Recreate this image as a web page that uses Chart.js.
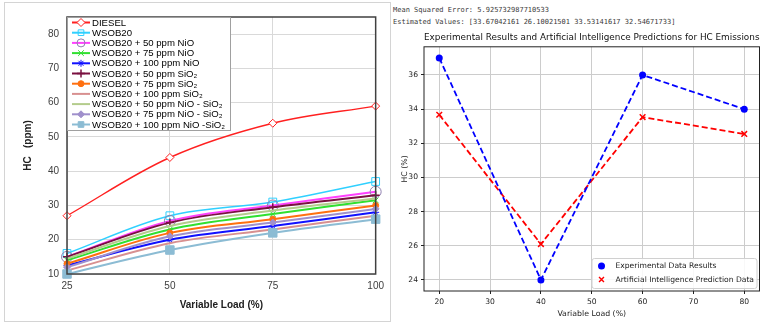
<!DOCTYPE html>
<html>
<head>
<meta charset="utf-8">
<script src="https://cdn.jsdelivr.net/npm/chart.js@4.4.0/dist/chart.umd.min.js"></script>
<style>
  html, body { margin: 0; padding: 0; background: #fff; }
  body { width: 765px; height: 327px; position: relative; overflow: hidden; }
  #leftBox { position: absolute; left: 4px; top: 2px; width: 385px; height: 318px; border: 1px solid #d4d4d4; }
  #leftChart { position: absolute; left: 0; top: 0; }
  #rightChart { position: absolute; left: 392px; top: 28px; }
  #log { position: absolute; left: 393px; top: 4px; margin: 0; font-family: "DejaVu Sans Mono", monospace;
         font-size: 7px; line-height: 12px; color: #3a3a3a; white-space: pre; }
</style>
</head>
<body>
<div id="leftBox"></div>
<canvas id="leftChart" width="390" height="327"></canvas>
<pre id="log"></pre>
<canvas id="rightChart" width="373" height="299"></canvas>
<script>
// Linker grafiek: HC emissies per brandstof
const loadLabels = ["25", "50", "75", "100"];
const hcTicks = [10, 20, 30, 40, 50, 60, 70, 80];

const seriesNames = [
  "DIESEL",
  "WSOB20",
  "WSOB20 + 50 ppm NiO",
  "WSOB20 + 75 ppm NiO",
  "WSOB20 + 100 ppm NiO",
  "WSOB20 + 50 ppm SiO₂",
  "WSOB20 + 75 ppm SiO₂",
  "WSOB20 + 100 ppm SiO₂",
  "WSOB20 + 50 ppm NiO - SiO₂",
  "WSOB20 + 75 ppm NiO - SiO₂",
  "WSOB20 + 100 ppm NiO -SiO₂"
];

const dieselHC = [27, 44, 54, 59];
const wsob20HC = [16, 27, 31, 37];
const nio50HC = [15, 25.5, 30, 34];
const nio75HC = [14, 23, 27.5, 31.5];
const nio100HC = [12.5, 20, 24, 28];
const sio50HC = [15, 25, 29.5, 33];
const sio75HC = [13, 22, 26, 30];
const sio100HC = [11, 19, 23, 27];
const mix50HC = [14.5, 24, 28.5, 32];
const mix75HC = [12, 21, 25, 29];
const mix100HC = [10, 17, 22, 26];

const seriesValues = [dieselHC, wsob20HC, nio50HC, nio75HC, nio100HC, sio50HC,
  sio75HC, sio100HC, mix50HC, mix75HC, mix100HC];

// Rechter grafiek: experiment tegen AI voorspelling
const aiLoads = [20, 40, 60, 80];
const experimentalHC = [37, 24, 36, 34];
const predictedHC = [33.67042161, 26.10021501, 33.53141617, 32.54671733];
const meanSquaredError = 5.925732987710533;
const aiTicksX = [20, 30, 40, 50, 60, 70, 80];
const aiTicksY = [24, 26, 28, 30, 32, 34, 36];

// Lijnstijlen per reeks (kleur, marker)
const seriesStyles = [
  { color: "#ff2020", point: "#ff2020", style: "rectRot", r: 4, fill: "#fff", bw: 1, lw: 1.4 },
  { color: "#30d0ff", point: "#30d0ff", style: "rect", r: 5.5, fill: "rgba(255,255,255,0)", bw: 1, lw: 1.5 },
  { color: "#ff40ff", point: "#9080b0", style: "circle", r: 5.5, fill: "rgba(255,255,255,0)", bw: 1, lw: 2 },
  { color: "#30e030", point: "#30e030", style: "crossRot", r: 4, fill: "#30e030", bw: 1, lw: 2 },
  { color: "#1010ff", point: "#1010ff", style: "star", r: 3.5, fill: "#1010ff", bw: 1, lw: 2 },
  { color: "#7a1040", point: "#7a1040", style: "cross", r: 4, fill: "#7a1040", bw: 1.5, lw: 2 },
  { color: "#ff7010", point: "#ff7010", style: "circle", r: 3, fill: "#ff7010", bw: 1, lw: 2 },
  { color: "#d89090", point: "#d89090", style: "circle", r: 0, fill: "#d89090", bw: 0, lw: 2 },
  { color: "#b4cc8c", point: "#b4cc8c", style: "circle", r: 0, fill: "#b4cc8c", bw: 0, lw: 2 },
  { color: "#a090cc", point: "#a090cc", style: "rectRot", r: 3.5, fill: "#a090cc", bw: 1, lw: 2 },
  { color: "#8cbcd4", point: "#8cbcd4", style: "rect", r: 6, fill: "#8cbcd4", bw: 1, lw: 2 }
];

// Kader rond het plotgebied
const framePlugin = {
  id: "frame",
  afterDatasetsDraw(chart, args, opts) {
    const { ctx, chartArea: a } = chart;
    ctx.save();
    ctx.strokeStyle = opts.color;
    ctx.lineWidth = opts.width;
    ctx.strokeRect(a.left, a.top, a.right - a.left, a.bottom - a.top);
    ctx.restore();
  }
};

// Legenda linksboven in het plotgebied (lijn + marker)
const leftLegend = {
  id: "leftLegend",
  afterDraw(chart) {
    const ctx = chart.ctx;
    const a = chart.chartArea;
    ctx.save();
    ctx.fillStyle = "#fff";
    ctx.fillRect(a.left, a.top, 163, 113);
    ctx.strokeStyle = "#a0a0a0";
    ctx.lineWidth = 1;
    ctx.strokeRect(a.left + 0.5, a.top + 0.5, 163, 113);
    ctx.font = "9.6px 'Liberation Sans', Arial, sans-serif";
    ctx.textBaseline = "middle";
    seriesNames.forEach((name, i) => {
      const s = seriesStyles[i];
      const y = a.top + 5.5 + i * 10.2;
      const x0 = a.left + 5;
      ctx.strokeStyle = s.color;
      ctx.lineWidth = 2;
      ctx.beginPath();
      ctx.moveTo(x0, y);
      ctx.lineTo(x0 + 18, y);
      ctx.stroke();
      if (s.r > 0) {
        ctx.strokeStyle = s.point;
        ctx.fillStyle = s.fill;
        ctx.lineWidth = s.bw;
        Chart.helpers.drawPoint(ctx, { pointStyle: s.style, radius: Math.min(s.r, 4), rotation: 0, borderWidth: s.bw }, x0 + 9, y);
      }
      ctx.fillStyle = "#000";
      ctx.fillText(name, x0 + 20, y + 0.5);
    });
    ctx.restore();
  }
};

const leftCtx = document.getElementById("leftChart").getContext("2d");
new Chart(leftCtx, {
  type: "line",
  data: {
    labels: loadLabels,
    datasets: seriesValues.map((vals, i) => {
      const s = seriesStyles[i];
      return {
        label: seriesNames[i],
        data: vals,
        borderColor: s.color,
        borderWidth: s.lw,
        tension: 0.35,
        clip: false,
        order: seriesValues.length - i,
        pointStyle: s.style,
        pointRadius: s.r,
        pointBorderColor: s.point,
        pointBackgroundColor: s.fill,
        pointBorderWidth: s.bw
      };
    })
  },
  options: {
    responsive: false,
    animation: false,
    layout: { padding: { left: 0, right: 14, top: 17, bottom: 0 } },
    plugins: { legend: { display: false }, tooltip: { enabled: false }, frame: { color: "#404040", width: 1.5 } },
    scales: {
      x: {
        grid: { color: "#d9d9d9", drawTicks: false },
        border: { display: false },
        ticks: { color: "#404040", padding: 6, font: { family: "'Liberation Sans', Arial", size: 10 } },
        title: { display: true, text: "Variable Load (%)", color: "#202020", padding: { bottom: 16 },
                 font: { family: "'Liberation Sans', Arial", size: 10, weight: "bold" } },
        afterFit: (s) => { s.height = 53; }
      },
      y: {
        min: 10,
        max: 85,
        grid: { color: "#d9d9d9", drawTicks: false },
        border: { display: false },
        afterBuildTicks: (s) => { s.ticks = hcTicks.map(v => ({ value: v })); },
        ticks: { color: "#404040", padding: 8, font: { family: "'Liberation Sans', Arial", size: 10 } },
        title: { display: true, text: "HC   (ppm)", color: "#202020", padding: { top: 22 },
                 font: { family: "'Liberation Sans', Arial", size: 10, weight: "bold" } },
        afterFit: (s) => { s.width = 67; }
      }
    }
  },
  plugins: [framePlugin, leftLegend]
});

// Uitvoer tekst boven de rechter grafiek
document.getElementById("log").textContent =
  "Mean Squared Error: " + meanSquaredError + "\n" +
  "Estimated Values: [" + predictedHC.map(v => v.toFixed(8)).join(" ") + "]";

// Legenda rechtsonder
const rightLegend = {
  id: "rightLegend",
  afterDraw(chart) {
    const ctx = chart.ctx;
    const a = chart.chartArea;
    const bx = a.right - 168, by = a.bottom - 33, bw = 165, bh = 30;
    ctx.save();
    ctx.fillStyle = "rgba(255,255,255,0.85)";
    ctx.strokeStyle = "#d0d0d0";
    ctx.lineWidth = 1;
    ctx.beginPath();
    ctx.roundRect(bx + 0.5, by + 0.5, bw, bh, 2.5);
    ctx.fill();
    ctx.stroke();
    ctx.font = "7.6px 'DejaVu Sans', sans-serif";
    ctx.textBaseline = "middle";
    const rows = [
      { text: "Experimental Data Results", color: "#0000ff", style: "circle", r: 3.5, bw: 0 },
      { text: "Artificial Intelligence Prediction Data", color: "#ff0000", style: "crossRot", r: 3.5, bw: 1.4 }
    ];
    rows.forEach((row, i) => {
      const y = by + 8 + i * 13.5;
      ctx.fillStyle = row.color;
      ctx.strokeStyle = row.color;
      ctx.lineWidth = row.bw;
      Chart.helpers.drawPoint(ctx, { pointStyle: row.style, radius: row.r, rotation: 0, borderWidth: row.bw }, bx + 10, y);
      ctx.fillStyle = "#222";
      ctx.fillText(row.text, bx + 24, y + 0.5);
    });
    ctx.restore();
  }
};

const rightCtx = document.getElementById("rightChart").getContext("2d");
new Chart(rightCtx, {
  type: "line",
  data: {
    datasets: [
      {
        label: "Experimental Data Results",
        data: aiLoads.map((x, i) => ({ x: x, y: experimentalHC[i] })),
        borderColor: "#0000ff",
        borderWidth: 1.8,
        borderDash: [6, 3],
        pointStyle: "circle",
        pointRadius: 3.5,
        pointBackgroundColor: "#0000ff",
        pointBorderWidth: 0,
        tension: 0
      },
      {
        label: "Artificial Intelligence Prediction Data",
        data: aiLoads.map((x, i) => ({ x: x, y: predictedHC[i] })),
        borderColor: "#ff0000",
        borderWidth: 1.8,
        borderDash: [6, 3],
        pointStyle: "crossRot",
        pointRadius: 4,
        pointBorderColor: "#ff0000",
        pointBorderWidth: 1.5,
        tension: 0
      }
    ]
  },
  options: {
    responsive: false,
    animation: false,
    layout: { padding: { left: 0, right: 5, top: 0, bottom: 0 } },
    plugins: {
      legend: { display: false },
      tooltip: { enabled: false },
      frame: { color: "#222", width: 1 },
      title: {
        display: true,
        fullSize: false,
        text: "Experimental Results and Artificial Intelligence Predictions for HC Emissions",
        color: "#111",
        padding: { top: 4, bottom: 4 },
        font: { family: "'DejaVu Sans', sans-serif", size: 9, weight: "normal" }
      }
    },
    scales: {
      x: {
        type: "linear",
        min: 17,
        max: 83,
        afterBuildTicks: (s) => { s.ticks = aiTicksX.map(v => ({ value: v })); },
        grid: { color: "#cccccc", tickColor: "#222", tickLength: 3 },
        border: { display: false },
        ticks: { color: "#222", padding: 3, font: { family: "'DejaVu Sans', sans-serif", size: 7.6 } },
        title: { display: true, text: "Variable Load (%)", color: "#222", padding: { bottom: 8 },
                 font: { family: "'DejaVu Sans', sans-serif", size: 7.8 } },
        afterFit: (s) => { s.height = 36; }
      },
      y: {
        min: 23.35,
        max: 37.65,
        afterBuildTicks: (s) => { s.ticks = aiTicksY.map(v => ({ value: v })); },
        grid: { color: "#cccccc", tickColor: "#222", tickLength: 3 },
        border: { display: false },
        ticks: { color: "#222", padding: 3, font: { family: "'DejaVu Sans', sans-serif", size: 7.6 } },
        title: { display: true, text: "HC (%)", color: "#222", padding: { top: 8 },
                 font: { family: "'DejaVu Sans', sans-serif", size: 7.8 } },
        afterFit: (s) => { s.width = 32; }
      }
    }
  },
  plugins: [framePlugin, rightLegend]
});
</script>
</body>
</html>
